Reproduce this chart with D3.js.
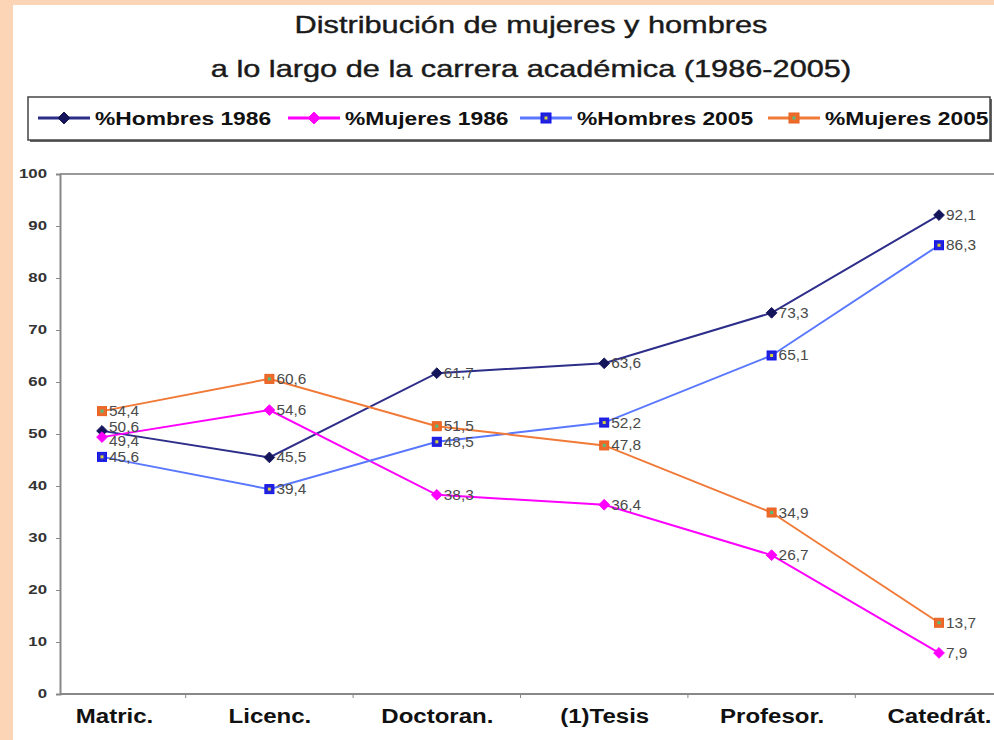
<!DOCTYPE html>
<html>
<head>
<meta charset="utf-8">
<script src="https://cdn.jsdelivr.net/npm/d3@7"></script>
<style>
  body { margin: 0; background: #fcd5b6; }
  svg { display: block; }
  .y.axis text { font-family: "Liberation Sans", Arial, sans-serif; font-weight: bold; font-size: 12px; fill: #333; }
  .x.axis text { font-family: "Liberation Sans", Arial, sans-serif; font-weight: bold; font-size: 20px; fill: #111; }
  .lbl { font-family: "Liberation Sans", Arial, sans-serif; font-size: 14px; fill: #4a4a4a; }
</style>
</head>
<body>
<svg id="chart" width="994" height="740"></svg>
<script>
  // data
  const categories = ["Matric.", "Licenc.", "Doctoran.", "(1)Tesis", "Profesor.", "Catedrát."];
  const hombres1986 = [50.6, 45.5, 61.7, 63.6, 73.3, 92.1];
  const mujeres1986 = [49.4, 54.6, 38.3, 36.4, 26.7, 7.9];
  const hombres2005 = [45.6, 39.4, 48.5, 52.2, 65.1, 86.3];
  const mujeres2005 = [54.4, 60.6, 51.5, 47.8, 34.9, 13.7];
  const seriesNames = ["%Hombres 1986", "%Mujeres 1986", "%Hombres 2005", "%Mujeres 2005"];
  const yTicks = [0, 10, 20, 30, 40, 50, 60, 70, 80, 90, 100];
  const titleLines = ["Distribución de mujeres y hombres", "a lo largo de la carrera académica (1986-2005)"];

  let svg = d3.select("svg#chart");
  let width = +svg.attr("width");
  let height = +svg.attr("height");

  // the original picture is stretched sideways, so widen the glyphs a bit
  function stretch(sel, k) {
    sel.each(function() {
      let len = this.getComputedTextLength();
      d3.select(this).attr("textLength", len * k).attr("lengthAdjust", "spacingAndGlyphs");
    });
  }

  // white panel on the peach frame
  svg.append("rect").attr("x", 13).attr("y", 5).attr("width", width - 13).attr("height", height - 5).attr("fill", "#fff");

  // title
  titleLines.forEach((t, i) => {
    svg.append("text")
      .attr("class", "title")
      .attr("x", 531).attr("y", 33 + i * 44)
      .attr("text-anchor", "middle")
      .style("font-family", "'Liberation Sans', Arial, sans-serif")
      .style("font-size", "24px")
      .style("fill", "#1a1a1a")
      .style("stroke", "#1a1a1a").style("stroke-width", 0.4)
      .text(t);
  });
  stretch(svg.selectAll("text.title"), 1.28);

  // styles per series
  const styles = [
    { line: "#2d2d8a", fill: "#15155c", stroke: "#15155c", shape: "diamond", dot: null },
    { line: "#ff00ff", fill: "#ff00ff", stroke: "#ff00ff", shape: "diamond", dot: null },
    { line: "#5a78ff", fill: "#2323d8", stroke: "#1010f0", shape: "square", dot: "#d8d040" },
    { line: "#f07a38", fill: "#ee6a2a", stroke: "#e86020", shape: "square", dot: "#50c080" }
  ];
  const allSeries = [hombres1986, mujeres1986, hombres2005, mujeres2005];

  let margin = { top: 174, right: 0, bottom: 46, left: 60 };
  let chartBottom = height - margin.bottom;

  const x = d3.scalePoint().domain(categories).range([102, 939]);
  const y = d3.scaleLinear().domain([0, 100]).range([chartBottom, margin.top]);

  // top border line of the plot
  svg.append("line")
    .attr("x1", margin.left).attr("x2", width)
    .attr("y1", y(100)).attr("y2", y(100))
    .attr("stroke", "#9a9a9a").attr("stroke-width", 2);

  // y axis
  let leftAxis = d3.axisLeft(y).tickValues(yTicks).tickSize(4).tickPadding(9);
  let yg = svg.append("g").attr("class", "y axis")
    .attr("transform", "translate(" + margin.left + ",0)")
    .call(leftAxis);
  yg.select(".domain").attr("stroke", "#888").attr("stroke-width", 2);
  yg.selectAll(".tick line").attr("stroke", "#888");
  stretch(yg.selectAll("text"), 1.4);

  // x axis (labels only, ticks drawn between categories)
  let bottomAxis = d3.axisBottom(x).tickSize(0).tickPadding(15);
  let xg = svg.append("g").attr("class", "x axis")
    .attr("transform", "translate(0," + chartBottom + ")")
    .call(bottomAxis);
  xg.select(".domain").remove();
  xg.selectAll(".tick").filter(d => d === "Matric.").select("text").attr("x", 12);
  stretch(xg.selectAll("text"), 1.2);
  svg.append("line")
    .attr("x1", margin.left).attr("x2", width)
    .attr("y1", chartBottom).attr("y2", chartBottom)
    .attr("stroke", "#888").attr("stroke-width", 2);
  d3.pairs(categories).forEach(p => {
    let mx = (x(p[0]) + x(p[1])) / 2;
    svg.append("line")
      .attr("x1", mx).attr("x2", mx)
      .attr("y1", chartBottom).attr("y2", chartBottom + 4)
      .attr("stroke", "#888");
  });

  function drawMarker(g, cx, cy, st, size) {
    if (st.shape === "diamond") {
      g.append("path")
        .attr("d", d3.symbol(d3.symbolDiamond2, size * size * 0.9)())
        .attr("transform", "translate(" + cx + "," + cy + ")")
        .attr("fill", st.fill).attr("stroke", st.stroke);
    } else {
      g.append("rect")
        .attr("x", cx - size / 2).attr("y", cy - size / 2)
        .attr("width", size).attr("height", size)
        .attr("fill", st.fill).attr("stroke", st.stroke).attr("stroke-width", 1);
      g.append("rect")
        .attr("x", cx - 1.5).attr("y", cy - 1.5)
        .attr("width", 3).attr("height", 3)
        .attr("fill", st.dot);
    }
  }

  let plot = svg.append("g");
  const line = d3.line().x((d, i) => x(categories[i])).y(d => y(d));

  allSeries.forEach((vals, s) => {
    plot.append("path")
      .datum(vals)
      .attr("d", line)
      .attr("fill", "none")
      .attr("stroke", styles[s].line)
      .attr("stroke-width", 2);
  });

  allSeries.forEach((vals, s) => {
    vals.forEach((v, i) => {
      let cx = x(categories[i]);
      let cy = y(v);
      drawMarker(plot, cx, cy, styles[s], 9);
      // the two Matric. labels sit on top of each other in the original; nudge them apart a little
      let dy = 5;
      if (i === 0 && s === 0) dy = 1;
      if (i === 0 && s === 1) dy = 9;
      plot.append("text")
        .attr("class", "lbl")
        .attr("x", cx + 7).attr("y", cy + dy)
        .text(String(v).replace(".", ","));
    });
  });
  stretch(plot.selectAll("text.lbl"), 1.1);

  // legend
  let legend = svg.append("g");
  legend.append("rect").attr("x", 30).attr("y", 99).attr("width", 962).attr("height", 43).attr("fill", "#666");
  legend.append("rect").attr("x", 28).attr("y", 97).attr("width", 962).attr("height", 43)
    .attr("fill", "#fff").attr("stroke", "#444").attr("stroke-width", 1.5);
  const legendX = [38, 288, 520, 768];
  seriesNames.forEach((name, s) => {
    let lx = legendX[s];
    let ly = 118;
    legend.append("line")
      .attr("x1", lx).attr("x2", lx + 52).attr("y1", ly).attr("y2", ly)
      .attr("stroke", styles[s].line).attr("stroke-width", 3);
    drawMarker(legend, lx + 26, ly, styles[s], 10);
    legend.append("text")
      .attr("class", "leg")
      .attr("x", lx + 57).attr("y", ly + 7)
      .style("font-family", "'Liberation Sans', Arial, sans-serif")
      .style("font-weight", "bold")
      .style("font-size", "19px")
      .style("fill", "#111")
      .text(name);
  });
  stretch(legend.selectAll("text.leg"), 1.2);
</script>
</body>
</html>
